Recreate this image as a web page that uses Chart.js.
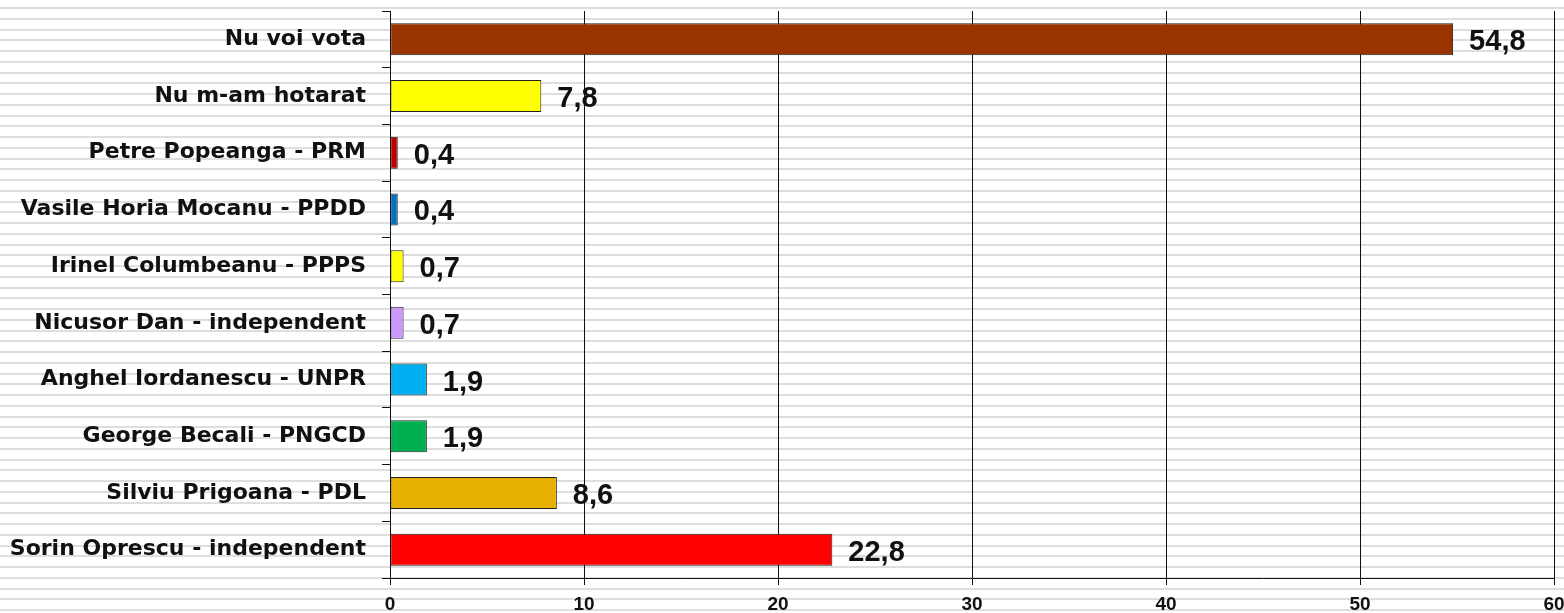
<!DOCTYPE html>
<html>
<head>
<meta charset="utf-8">
<script src="https://cdn.jsdelivr.net/npm/chart.js@4.4.1/dist/chart.umd.min.js"></script>
<style>
  html, body { margin: 0; padding: 0; background: #fff; }
  #wrap { width: 1564px; height: 613px; }
</style>
</head>
<body>
<div id="wrap"><canvas id="chart"></canvas></div>
<script>
const categories = [
  'Nu voi vota',
  'Nu m-am hotarat',
  'Petre Popeanga - PRM',
  'Vasile Horia Mocanu - PPDD',
  'Irinel Columbeanu - PPPS',
  'Nicusor Dan - independent',
  'Anghel Iordanescu - UNPR',
  'George Becali - PNGCD',
  'Silviu Prigoana - PDL',
  'Sorin Oprescu - independent'
];
const values = [54.8, 7.8, 0.4, 0.4, 0.7, 0.7, 1.9, 1.9, 8.6, 22.8];
const barColors = ['#993300', '#ffff00', '#c00000', '#0070c0', '#ffff00',
                   '#cc99ff', '#00b0f0', '#00b050', '#e6b000', '#ff0000'];
const xTicks = [0, 10, 20, 30, 40, 50, 60];

const arialFont = '"Liberation Sans", Arial, sans-serif';
const wideFont = '"DejaVu Sans", Verdana, sans-serif';

// gray horizontal stripes behind everything
const stripes = {
  id: 'stripes',
  beforeDraw(chart) {
    const ctx = chart.ctx;
    ctx.save();
    ctx.fillStyle = '#ffffff';
    ctx.fillRect(0, 0, chart.width, chart.height);
    ctx.fillStyle = '#dedede';
    for (let y = 7; y < chart.height; y += 10.75) {
      ctx.fillRect(0, Math.round(y), chart.width, 2);
    }
    ctx.restore();
  }
};

const valueLabels = {
  id: 'valueLabels',
  afterDatasetsDraw(chart) {
    const ctx = chart.ctx;
    ctx.save();
    ctx.font = 'bold 29px ' + arialFont;
    ctx.fillStyle = '#111';
    ctx.textAlign = 'left';
    ctx.textBaseline = 'middle';
    chart.getDatasetMeta(0).data.forEach((bar, i) => {
      const txt = values[i].toFixed(1).replace('.', ',');
      ctx.fillText(txt, bar.x + 16, bar.y + 3);
    });
    ctx.restore();
  }
};

new Chart(document.getElementById('chart'), {
  type: 'bar',
  data: {
    labels: categories,
    datasets: [{
      data: values,
      backgroundColor: barColors,
      borderColor: '#222',
      borderWidth: 1,
      borderSkipped: false,
      barPercentage: 0.565,
      categoryPercentage: 1
    }]
  },
  options: {
    indexAxis: 'y',
    responsive: true,
    maintainAspectRatio: false,
    animation: false,
    layout: { padding: { top: 11, right: 10, left: 0, bottom: 0 } },
    plugins: {
      legend: { display: false },
      tooltip: { enabled: false }
    },
    scales: {
      x: {
        min: 0,
        max: 60,
        afterBuildTicks: scale => { scale.ticks = xTicks.map(v => ({ value: v })); },
        afterFit: scale => {
          scale.height = 35;
          scale.paddingLeft = 0;
          scale.paddingRight = 0;
        },
        ticks: {
          color: '#111',
          padding: 8,
          font: { family: arialFont, size: 19, weight: 'bold' }
        },
        grid: {
          color: '#111',
          lineWidth: 1,
          tickLength: 7
        },
        border: { color: '#111', width: 1 }
      },
      y: {
        afterFit: scale => {
          scale.width = 390;
          scale.paddingTop = 0;
          scale.paddingBottom = 0;
        },
        ticks: {
          color: '#111',
          padding: 16,
          font: { family: wideFont, size: 22, weight: 'bold' }
        },
        grid: {
          offset: true,
          drawOnChartArea: false,
          color: '#111',
          tickLength: 8
        },
        border: { color: '#111', width: 1 }
      }
    }
  },
  plugins: [stripes, valueLabels]
});
</script>
</body>
</html>
